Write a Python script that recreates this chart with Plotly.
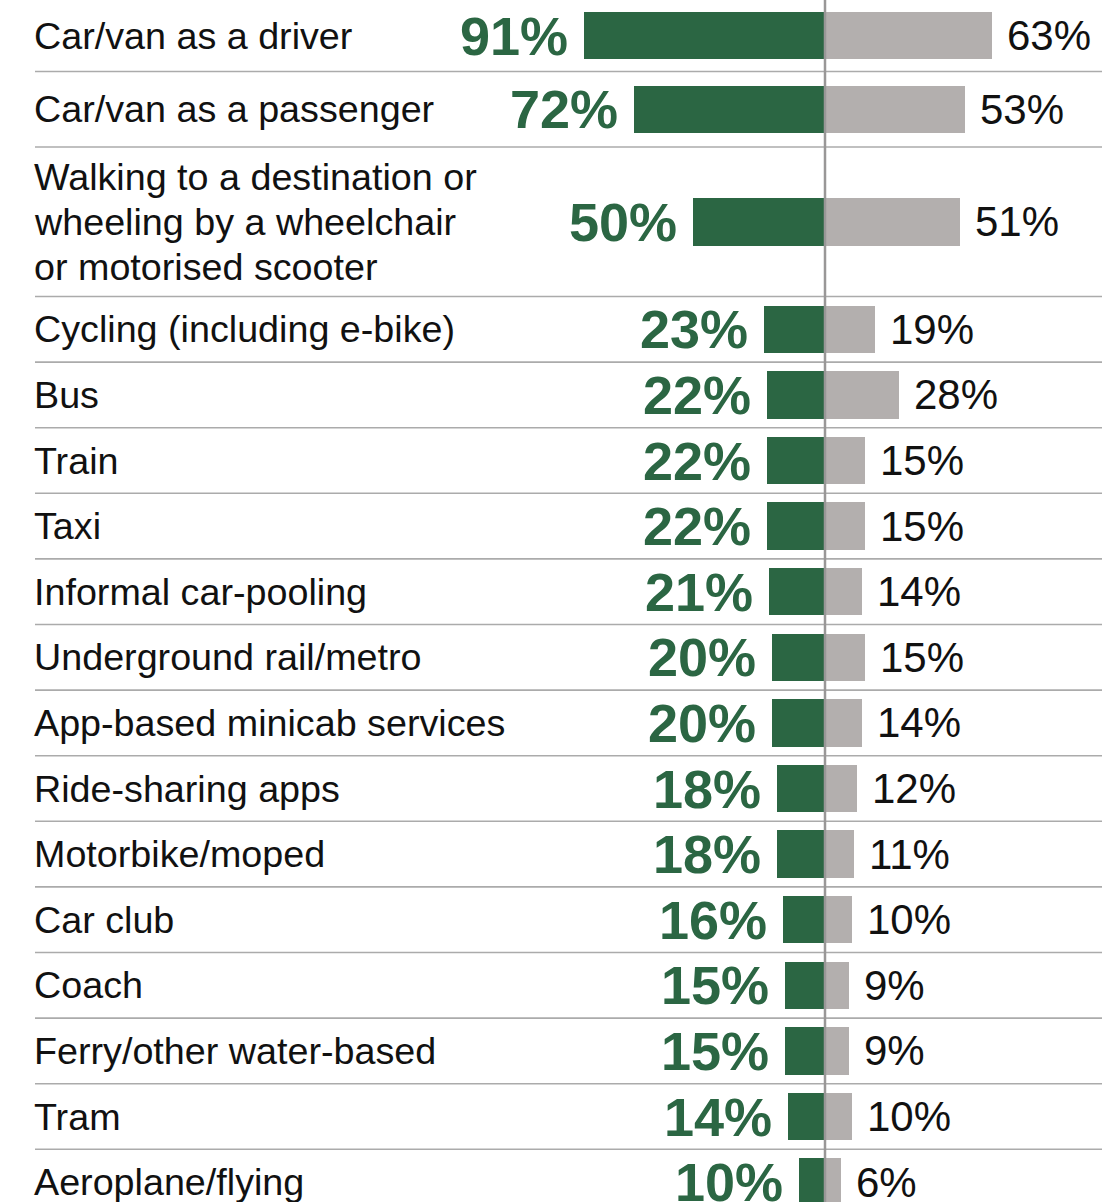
import plotly.graph_objects as go

# ---- data ----
categories = [
    "Car/van as a driver",
    "Car/van as a passenger",
    "Walking to a destination or<br>wheeling by a wheelchair<br>or motorised scooter",
    "Cycling (including e-bike)",
    "Bus",
    "Train",
    "Taxi",
    "Informal car-pooling",
    "Underground rail/metro",
    "App-based minicab services",
    "Ride-sharing apps",
    "Motorbike/moped",
    "Car club",
    "Coach",
    "Ferry/other water-based",
    "Tram",
    "Aeroplane/flying",
]
green_values = [91, 72, 50, 23, 22, 22, 22, 21, 20, 20, 18, 18, 16, 15, 15, 14, 10]
grey_values = [63, 53, 51, 19, 28, 15, 15, 14, 15, 14, 12, 11, 10, 9, 9, 10, 6]

# ---- layout / style ----
W, H = 1102, 1202
ZERO_PX = 825          # horizontal position of the centre line
PX_PER_PCT = 2.65      # bar length per percentage point
BAR_THICK = 47.5
LABEL_LEFT = 35
LINE_GAP = 45          # spacing between lines of a wrapped label

GREEN = "#2b6643"
GREY_BAR = "#b3afae"
RULE = "#ababab"
CENTRE = "#999797"
FONT = "Liberation Sans, Arial, Helvetica, sans-serif"

# row heights: the three-line label needs a tall row
row_heights = []
for i, lab in enumerate(categories):
    n_lines = lab.count("<br>") + 1
    if n_lines > 1:
        row_heights.append(149.5)
    elif i == 0:
        row_heights.append(72)
    elif i == 1:
        row_heights.append(75.5)
    else:
        row_heights.append(65.6)

tops, centres = [], []
y = -0.5
for h in row_heights:
    tops.append(y)
    centres.append(y + h / 2)
    y += h
bottoms = [t + h for t, h in zip(tops, row_heights)]

x_min = -ZERO_PX / PX_PER_PCT
x_max = (W - ZERO_PX) / PX_PER_PCT

fig = go.Figure()
fig.add_trace(go.Bar(
    y=centres, x=[-v for v in green_values], orientation="h",
    width=BAR_THICK, marker=dict(color=GREEN, line=dict(width=0)),
    hoverinfo="skip", showlegend=False,
))
fig.add_trace(go.Bar(
    y=centres, x=grey_values, orientation="h",
    width=BAR_THICK, marker=dict(color=GREY_BAR, line=dict(width=0)),
    hoverinfo="skip", showlegend=False,
))

annotations = []
for c, lab, g, r in zip(centres, categories, green_values, grey_values):
    lines = lab.split("<br>")
    n = len(lines)
    for k, line in enumerate(lines):
        annotations.append(dict(
            x=LABEL_LEFT / W, xref="paper", xanchor="left", xshift=-3,
            y=c + (k - (n - 1) / 2) * LINE_GAP, yref="y", yanchor="middle",
            text=line, showarrow=False,
            font=dict(family=FONT, size=37.7, color="#111111"),
        ))
    annotations.append(dict(
        x=-g, xref="x", xanchor="right", xshift=-14,
        y=c, yref="y", yanchor="middle",
        text=f"<b>{g}%</b>", showarrow=False,
        font=dict(family=FONT, size=54, color=GREEN),
    ))
    annotations.append(dict(
        x=r, xref="x", xanchor="left", xshift=13,
        y=c, yref="y", yanchor="middle",
        text=f"{r}%", showarrow=False,
        font=dict(family=FONT, size=42, color="#111111"),
    ))

shapes = []
for b in bottoms[:-1]:
    shapes.append(dict(
        type="line", xref="paper", yref="y",
        x0=LABEL_LEFT / W, x1=1, y0=b, y1=b,
        line=dict(color=RULE, width=1.6), layer="below",
    ))
shapes.append(dict(
    type="line", xref="x", yref="paper",
    x0=0, x1=0, y0=0, y1=1,
    line=dict(color=CENTRE, width=2.5), layer="above",
))

fig.update_layout(
    width=W, height=H,
    margin=dict(l=0, r=0, t=0, b=0),
    paper_bgcolor="white", plot_bgcolor="white",
    barmode="overlay", bargap=0,
    xaxis=dict(range=[x_min, x_max], visible=False, fixedrange=True),
    yaxis=dict(range=[H, 0], visible=False, fixedrange=True),
    annotations=annotations,
    shapes=shapes,
    showlegend=False,
)

fig.write_html("out.html", config={"displayModeBar": False})
